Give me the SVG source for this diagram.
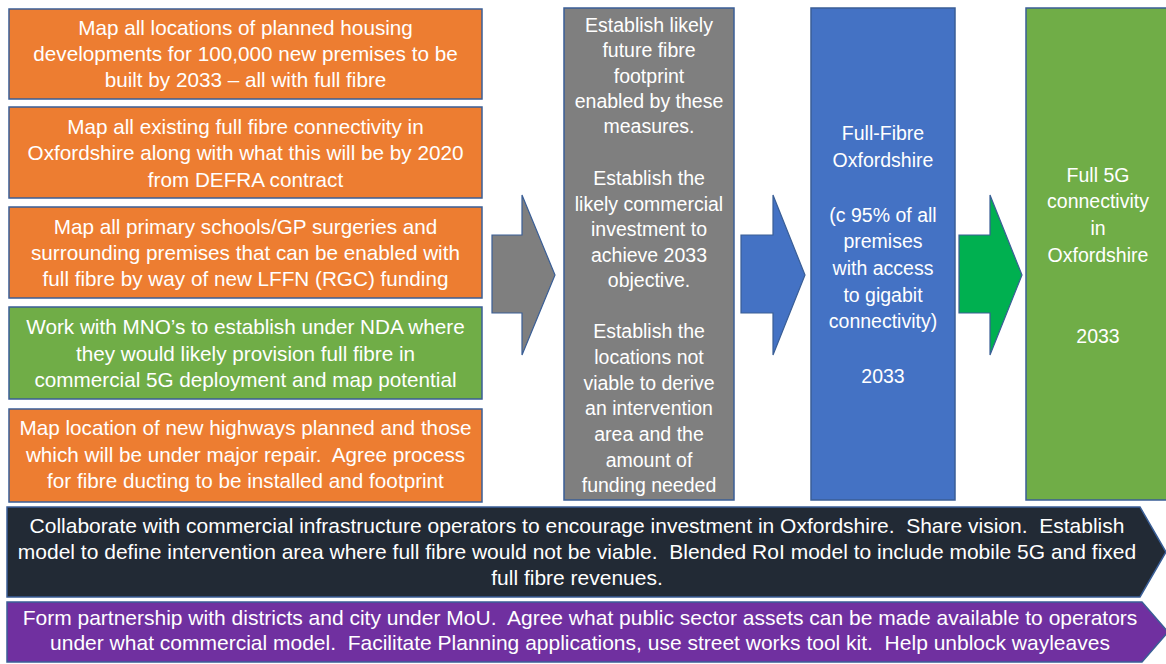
<svg xmlns="http://www.w3.org/2000/svg" width="1166" height="664" viewBox="0 0 1166 664">
<style>
.box{stroke:#3A5E96;stroke-width:1.5}
.org{fill:#ED7D31}
.grn{fill:#70AD47}
.gry{fill:#7F7F7F}
.blu{fill:#4472C4}
.drk{fill:#222A35}
.pur{fill:#7030A0}
.arr{stroke:#3A5E96;stroke-width:1.2}
text{font-family:"Liberation Sans",Arial,sans-serif;fill:#FFFFFF;text-anchor:middle}
.t20{font-size:20.7px}
.t21{font-size:21px}
.t19{font-size:19.5px}
</style>
<rect width="1166" height="664" fill="#FFFFFF"/>
<g id="box-housing">
<rect class="box org" x="9" y="9" width="473" height="90"/>
<text class="t20"><tspan x="245.5" y="35">Map all locations of planned housing</tspan><tspan x="245.5" y="61">developments for 100,000 new premises to be</tspan><tspan x="245.5" y="87">built by 2033 – all with full fibre</tspan></text>
</g>
<g id="box-existing">
<rect class="box org" x="9" y="107" width="473" height="91"/>
<text class="t20"><tspan x="245.5" y="134">Map all existing full fibre connectivity in</tspan><tspan x="245.5" y="160">Oxfordshire along with what this will be by 2020</tspan><tspan x="245.5" y="187">from DEFRA contract</tspan></text>
</g>
<g id="box-schools">
<rect class="box org" x="9" y="207" width="473" height="91"/>
<text class="t20"><tspan x="245.5" y="234">Map all primary schools/GP surgeries and</tspan><tspan x="245.5" y="260">surrounding premises that can be enabled with</tspan><tspan x="245.5" y="286">full fibre by way of new LFFN (RGC) funding</tspan></text>
</g>
<g id="box-mno">
<rect class="box grn" x="9" y="307" width="473" height="92"/>
<text class="t20"><tspan x="245.5" y="334">Work with MNO’s to establish under NDA where</tspan><tspan x="245.5" y="361">they would likely provision full fibre in</tspan><tspan x="245.5" y="387">commercial 5G deployment and map potential</tspan></text>
</g>
<g id="box-highways">
<rect class="box org" x="9" y="409" width="473" height="93"/>
<text class="t20" xml:space="preserve"><tspan x="245.5" y="435">Map location of new highways planned and those</tspan><tspan x="245.5" y="462">which will be under major repair.  Agree process</tspan><tspan x="245.5" y="488">for fibre ducting to be installed and footprint</tspan></text>
</g>
<g id="box-establish">
<rect class="box gry" x="564" y="8" width="170" height="492"/>
<text class="t19"><tspan x="649" y="32">Establish likely</tspan><tspan x="649" y="57">future fibre</tspan><tspan x="649" y="83">footprint</tspan><tspan x="649" y="108">enabled by these</tspan><tspan x="649" y="133">measures.</tspan><tspan x="649" y="185">Establish the</tspan><tspan x="649" y="211">likely commercial</tspan><tspan x="649" y="236">investment to</tspan><tspan x="649" y="262">achieve 2033</tspan><tspan x="649" y="287">objective.</tspan><tspan x="649" y="338">Establish the</tspan><tspan x="649" y="364">locations not</tspan><tspan x="649" y="390">viable to derive</tspan><tspan x="649" y="415">an intervention</tspan><tspan x="649" y="441">area and the</tspan><tspan x="649" y="467">amount of</tspan><tspan x="649" y="492">funding needed</tspan></text>
</g>
<g id="box-fullfibre">
<rect class="box blu" x="811" y="8" width="144" height="492"/>
<text class="t19"><tspan x="883" y="140">Full-Fibre</tspan><tspan x="883" y="167">Oxfordshire</tspan><tspan x="883" y="222">(c 95% of all</tspan><tspan x="883" y="248">premises</tspan><tspan x="883" y="275">with access</tspan><tspan x="883" y="302">to gigabit</tspan><tspan x="883" y="328">connectivity)</tspan><tspan x="883" y="383">2033</tspan></text>
</g>
<g id="box-5g">
<rect class="box grn" x="1026" y="8" width="150" height="492"/>
<text class="t19"><tspan x="1098" y="182">Full 5G</tspan><tspan x="1098" y="208">connectivity</tspan><tspan x="1098" y="235">in</tspan><tspan x="1098" y="262">Oxfordshire</tspan><tspan x="1098" y="343">2033</tspan></text>
</g>
<g id="banner-collaborate">
<polygon class="box drk" points="7,507 1140,507 1166,552 1140,597 7,597"/>
<text class="t21" xml:space="preserve"><tspan x="577" y="533">Collaborate with commercial infrastructure operators to encourage investment in Oxfordshire.  Share vision.  Establish</tspan><tspan x="577" y="559">model to define intervention area where full fibre would not be viable.  Blended RoI model to include mobile 5G and fixed</tspan><tspan x="577" y="585">full fibre revenues.</tspan></text>
</g>
<g id="banner-partnership">
<polygon class="box pur" points="7,602 1142,602 1168,632 1142,662 7,662"/>
<text class="t21" xml:space="preserve"><tspan x="580" y="625">Form partnership with districts and city under MoU.  Agree what public sector assets can be made available to operators</tspan><tspan x="580" y="650">under what commercial model.  Facilitate Planning applications, use street works tool kit.  Help unblock wayleaves</tspan></text>
</g>
<g id="connectors">
<polygon class="arr" fill="#7F7F7F" points="492,235 522,235 522,195 555,275 522,355 522,313 492,313"/>
<polygon class="arr" fill="#4472C4" points="741,235 773,235 773,195 805,275 773,355 773,313 741,313"/>
<polygon class="arr" fill="#00B050" points="959,235 990,235 990,195 1022,275 990,355 990,313 959,313"/>
</g>
</svg>
